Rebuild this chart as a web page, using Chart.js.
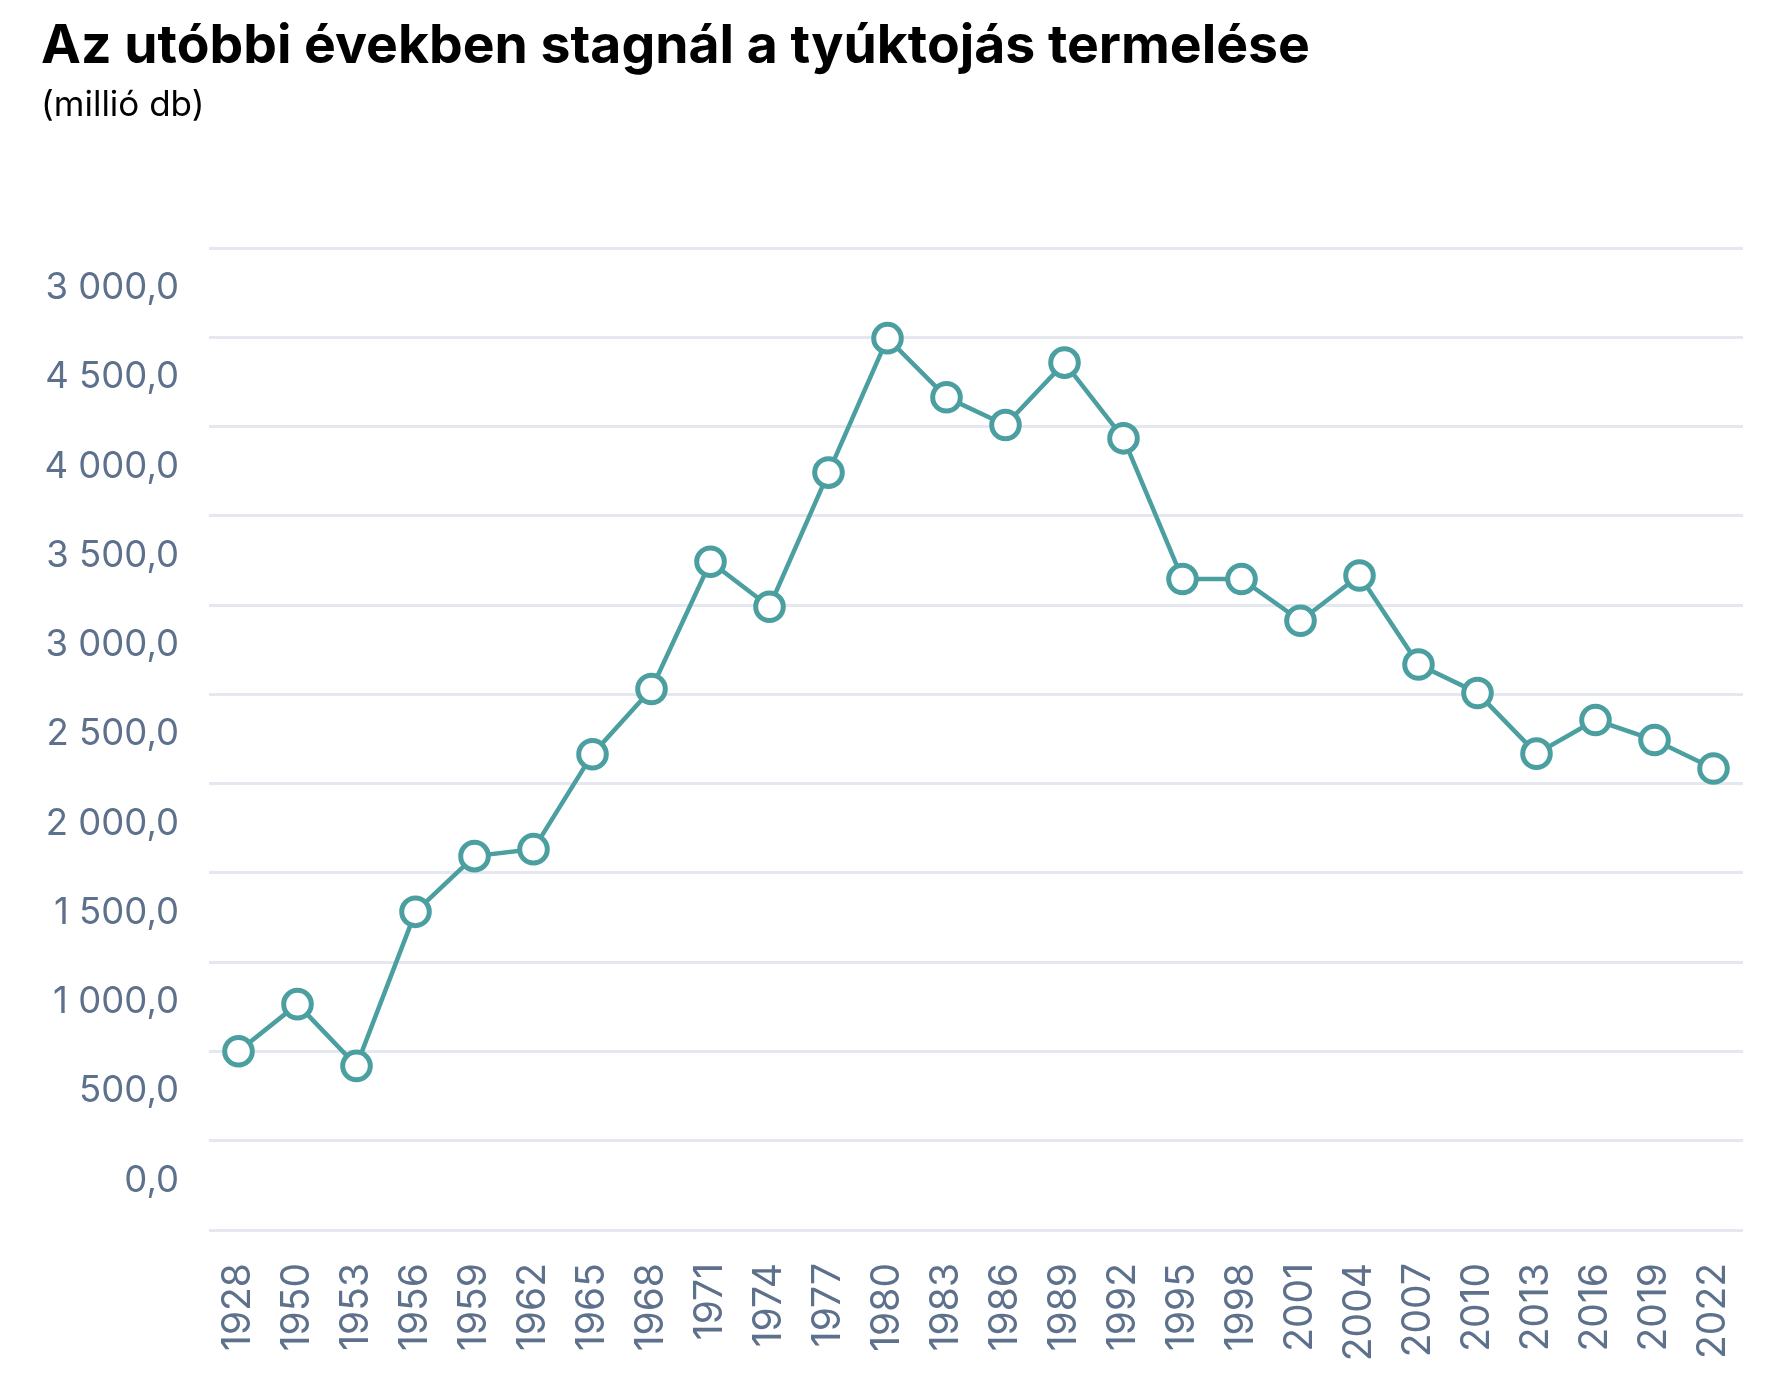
<!DOCTYPE html>
<html lang="hu">
<head>
<meta charset="utf-8">
<title>Tyúktojás termelés</title>
<script src="https://cdn.jsdelivr.net/npm/chart.js@4.4.1/dist/chart.umd.min.js"></script>
<style>
  html, body { margin: 0; padding: 0; background: #ffffff; overflow: hidden; }
  #wrap { position: relative; width: 1766px; height: 1382px; }
</style>
</head>
<body>
<div id="wrap"><canvas id="eggChart"></canvas></div>
<script>
// évek (x tengely)
var years = ['1928', '1950', '1953', '1956', '1959', '1962', '1965', '1968', '1971', '1974',
             '1977', '1980', '1983', '1986', '1989', '1992', '1995', '1998', '2001', '2004',
             '2007', '2010', '2013', '2016', '2019', '2022'];

// tyúktojás termelés, millió db
var eggs = [751, 1015, 669, 1532, 1844, 1883, 2415, 2780, 3493, 3241,
            3992, 4745, 4414, 4259, 4608, 4184, 3396, 3396, 3162, 3416,
            2917, 2758, 2418, 2606, 2494, 2335];

// y tengely feliratai alulról felfelé (a legfelső az eredetiben is így szerepel)
var yTickLabels = ['0,0', '500,0', '1 000,0', '1 500,0', '2 000,0', '2 500,0',
                   '3 000,0', '3 500,0', '4 000,0', '4 500,0', '3 000,0'];
// rácsvonalak a feliratok között
var yGridValues = [-250, 250, 750, 1250, 1750, 2250, 2750, 3250, 3750, 4250, 4750, 5250];

var teal = '#4b9fa0';
var slate = '#5d708c';

var ctx = document.getElementById('eggChart');

var eggChart = new Chart(ctx, {
    type: 'line',
    data: {
        labels: years,
        datasets: [{
            label: 'Tyúktojás',
            data: eggs,
            borderColor: teal,
            borderWidth: 4.5,
            tension: 0,
            pointRadius: 13.8,
            pointHoverRadius: 13.8,
            pointBorderWidth: 5,
            pointBackgroundColor: '#ffffff',
            pointBorderColor: teal,
            clip: false,
        }]
    },
    options: {
        responsive: true,
        maintainAspectRatio: false,
        animation: false,
        layout: {
            padding: { left: 41, right: 23, top: 0, bottom: 0 }
        },
        plugins: {
            legend: { display: false },
            tooltip: { enabled: false },
            title: {
                display: true,
                text: 'Az utóbbi években stagnál a tyúktojás termelése',
                align: 'start',
                color: '#000000',
                font: { family: 'Inter', size: 53.5, weight: 'bold', lineHeight: 1 },
                padding: { top: 20, bottom: 0 }
            },
            subtitle: {
                display: true,
                text: '(millió db)',
                align: 'start',
                color: '#000000',
                font: { family: 'Inter', size: 35, weight: 'normal', lineHeight: 1 },
                padding: { top: 14.6, bottom: 124.9 }
            }
        },
        scales: {
            x: {
                type: 'category',
                offset: true,
                grid: { display: false, drawTicks: false },
                border: { display: false },
                ticks: {
                    autoSkip: false,
                    minRotation: 90,
                    maxRotation: 90,
                    padding: 33,
                    color: slate,
                    font: { family: 'Inter', size: 39 }
                },
                afterFit: function (scale) {
                    scale.height = 152;
                    // a forgatott feliratok ne szűkítsék a rajzterületet
                    scale.paddingLeft = 0;
                    scale.paddingRight = 0;
                }
            },
            y: {
                min: -250,
                max: 5250,
                afterBuildTicks: function (scale) {
                    scale.ticks = yGridValues.map(function (v) { return { value: v }; });
                },
                grid: {
                    color: '#e5e8ee',
                    lineWidth: 3,
                    drawTicks: false
                },
                border: { display: false },
                ticks: {
                    padding: 30,
                    labelOffset: 40,
                    color: slate,
                    font: { family: 'Inter', size: 36.5 },
                    callback: function (value, index) {
                        return index === 0 ? '' : yTickLabels[index - 1];
                    }
                },
                afterFit: function (scale) { scale.width = 168; }
            }
        }
    }
});
</script>
</body>
</html>
